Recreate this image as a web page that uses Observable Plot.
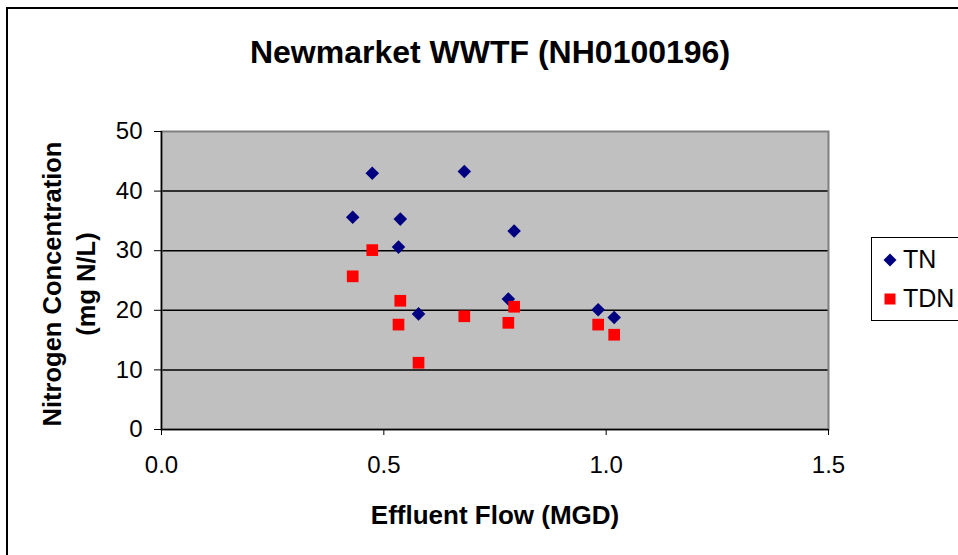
<!DOCTYPE html>
<html>
<head>
<meta charset="utf-8">
<script src="https://cdn.jsdelivr.net/npm/d3@7"></script>
<script src="https://cdn.jsdelivr.net/npm/@observablehq/plot@0.6"></script>
<style>
  html, body { margin: 0; padding: 0; background: #fff; overflow: hidden; }
  #wrap { position: relative; width: 958px; height: 555px; overflow: hidden; font-family: "Liberation Sans", Arial, sans-serif; }
  #frame { position: absolute; left: 6px; top: 7px; width: 1000px; height: 600px; border: 2px solid #000; box-sizing: border-box; }
  .lbl { position: absolute; transform: translate(-50%, -50%); white-space: nowrap; color: #000; }
  #title { left: 490px; top: 52px; font-size: 32px; font-weight: bold; }
  #xlabel { left: 495px; top: 515px; font-size: 26px; font-weight: bold; }
  #ylabel { left: 69px; top: 284px; font-size: 25.5px; font-weight: bold; text-align: center; line-height: 34px; transform: translate(-50%, -50%) rotate(-90deg); white-space: pre; }
  #legend { position: absolute; left: 871px; top: 237px; width: 120px; height: 84px; border: 1.5px solid #000; box-sizing: border-box; background: #fff; }
  .item { position: absolute; left: 11px; font-size: 25px; display: flex; align-items: center; }
  .item svg { margin-right: 6px; }
  #plot { position: absolute; left: 0; top: 0; }
</style>
</head>
<body>
<div id="wrap">
  <div id="plot"></div>
  <div id="frame"></div>
  <div id="title" class="lbl"></div>
  <div id="xlabel" class="lbl"></div>
  <div id="ylabel" class="lbl"></div>
  <div id="legend"></div>
</div>
<script>
const chartTitle = "Newmarket WWTF (NH0100196)";
const xTitle = "Effluent Flow (MGD)";
const yTitle = "Nitrogen Concentration\n(mg N/L)";
const seriesNames = ["TN", "TDN"];
const seriesColors = ["#000080", "#FF0000"];
const flow = [0.430, 0.474, 0.537, 0.533, 0.578, 0.681, 0.780, 0.793, 0.982, 1.018];
const tnValues = [35.6, 43.0, 35.3, 30.6, 19.4, 43.3, 21.9, 33.3, 20.1, 18.8];
const tdnValues = [25.7, 30.1, 21.6, 17.6, 11.2, 19.0, 17.9, 20.6, 17.6, 15.9];
const xTicks = [0, 0.5, 1.0, 1.5];
const yTicks = [0, 10, 20, 30, 40, 50];

const tn = flow.map((f, i) => ({flow: f, value: tnValues[i]}));
const tdn = flow.map((f, i) => ({flow: f, value: tdnValues[i]}));

const chart = Plot.plot({
  width: 958,
  height: 555,
  marginLeft: 161,
  marginRight: 130,
  marginTop: 131,
  marginBottom: 126,
  style: {fontFamily: "'Liberation Sans', Arial, sans-serif", fontSize: "24px", background: "transparent", color: "#000"},
  x: {domain: [0, 1.5], ticks: xTicks, tickFormat: d3.format(".1f")},
  y: {domain: [0, 50], ticks: yTicks},
  marks: [
    Plot.frame({fill: "#C0C0C0"}),
    Plot.gridY(yTicks.filter(d => d > 0 && d < 50), {stroke: "#000", strokeOpacity: 1, strokeWidth: 1.5}),
    Plot.frame({stroke: "#808080", strokeWidth: 2}),
    Plot.ruleX([0], {stroke: "#000", strokeWidth: 1.5}),
    Plot.ruleY([0], {stroke: "#000", strokeWidth: 1.5}),
    Plot.axisX(xTicks, {tickSize: 6, tickPadding: 20, label: null, stroke: "#000", tickFormat: d3.format(".1f")}),
    Plot.axisY(yTicks, {tickSize: 7, tickPadding: 12, label: null, stroke: "#000"}),
    Plot.dot(tn, {x: "flow", y: "value", symbol: "diamond2", fill: seriesColors[0], r: 6.1}),
    Plot.dot(tdn, {x: "flow", y: "value", symbol: "square", fill: seriesColors[1], r: 6.6})
  ]
});
document.getElementById("plot").appendChild(chart);

document.getElementById("title").textContent = chartTitle;
document.getElementById("xlabel").textContent = xTitle;
document.getElementById("ylabel").textContent = yTitle;

const legend = document.getElementById("legend");
const shapes = [
  '<svg width="14" height="14" viewBox="-7 -7 14 14"><path d="M0,-6.5L6.5,0L0,6.5L-6.5,0Z" fill="' + seriesColors[0] + '"/></svg>',
  '<svg width="14" height="14" viewBox="-7 -7 14 14"><rect x="-5.5" y="-5.5" width="11" height="11" fill="' + seriesColors[1] + '"/></svg>'
];
seriesNames.forEach((name, i) => {
  const d = document.createElement("div");
  d.className = "item";
  d.style.top = (i === 0 ? 7 : 46) + "px";
  d.innerHTML = shapes[i] + "<span>" + name + "</span>";
  legend.appendChild(d);
});
</script>
</body>
</html>
